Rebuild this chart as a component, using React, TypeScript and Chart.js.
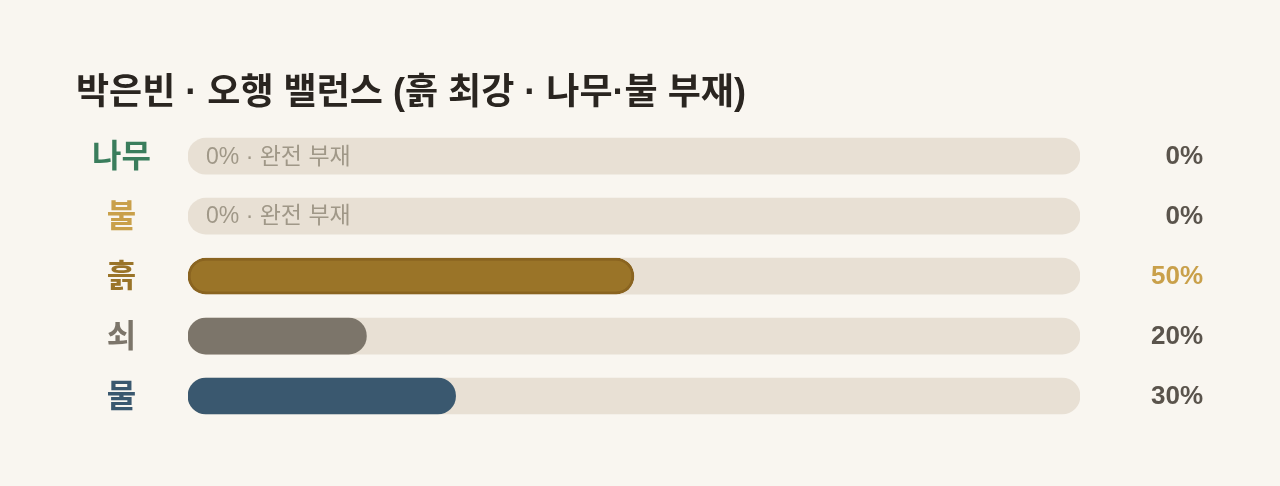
import React, { useEffect, useRef } from 'react';
import Chart from 'chart.js/auto';

const elements = ['나무', '불', '흙', '쇠', '물'];
const shares = [0, 0, 50, 20, 30];
const trackValues = [100, 100, 100, 100, 100];
const absentNote = '0% · 완전 부재';
const titleText = '박은빈 · 오행 밸런스 (흙 최강 · 나무·불 부재)';

const labelColors = ['#3a7d5c', '#c9a04a', '#9a7428', '#7c756a', '#3a586f'];
const barColors = ['#3a7d5c', '#c9a04a', '#9a7428', '#7c756a', '#3a586f'];
const barBorders = [0, 0, 3, 0, 0];
const strongest = 2;

// latin glyphs from Liberation Sans, hangul falls back to Noto CJK
const FONT = '"Liberation Sans", "Noto Sans CJK KR", sans-serif';

const valueTextPlugin = {
  id: 'valueText',
  afterDatasetsDraw(chart: any) {
    const { ctx, chartArea, scales } = chart;
    ctx.save();
    ctx.textBaseline = 'middle';
    elements.forEach((_, i) => {
      const y = scales.y.getPixelForValue(i);
      ctx.font = `bold 26px ${FONT}`;
      ctx.textAlign = 'right';
      ctx.fillStyle = i === strongest ? '#c9a04a' : '#5a544c';
      ctx.fillText(`${shares[i]}%`, chartArea.right + 123, y + 1);
      if (shares[i] === 0) {
        ctx.font = `23px ${FONT}`;
        ctx.textAlign = 'left';
        ctx.fillStyle = '#a09888';
        ctx.fillText(absentNote, scales.x.getPixelForValue(0) + 18, y + 1);
      }
    });
    ctx.restore();
  },
};

const App: React.FC = () => {
  const chartRef = useRef<HTMLCanvasElement | null>(null);
  const chartInstance = useRef<Chart | null>(null);

  useEffect(() => {
    document.body.style.margin = '0';
    document.body.style.background = '#f9f6f0';
    if (!chartRef.current) return;
    if (chartInstance.current) chartInstance.current.destroy();
    const ctx = chartRef.current.getContext('2d');
    if (!ctx) return;

    chartInstance.current = new Chart(ctx, {
      type: 'bar',
      data: {
        labels: elements,
        datasets: [
          {
            label: 'share',
            data: shares.map((v) => (v === 0 ? null : v)),
            backgroundColor: barColors,
            borderColor: '#8a6420',
            borderWidth: barBorders,
            borderRadius: 18,
            borderSkipped: false,
            barThickness: 36,
            grouped: false,
            order: 0,
          },
          {
            label: 'track',
            data: trackValues,
            backgroundColor: '#e8e0d4',
            borderWidth: 0,
            borderRadius: 18,
            borderSkipped: false,
            barThickness: 36,
            grouped: false,
            order: 1,
          },
        ],
      },
      options: {
        indexAxis: 'y',
        responsive: false,
        animation: false,
        layout: { padding: { left: 76, right: 200, top: 0, bottom: 60 } },
        plugins: {
          legend: { display: false },
          tooltip: { enabled: false },
          title: {
            display: true,
            text: titleText,
            align: 'start',
            color: '#2a2520',
            font: { family: FONT, size: 36, weight: 'bold' },
            padding: { top: 72, bottom: 11 },
          },
        },
        scales: {
          x: { display: false, min: 0, max: 100 },
          y: {
            grid: { display: false, drawTicks: false },
            border: { display: false },
            ticks: {
              crossAlign: 'center',
              padding: 37,
              labelOffset: 2,
              color: (c: any) => labelColors[c.index],
              font: { family: FONT, size: 32, weight: 'bold' },
            },
            afterFit: (axis: any) => {
              axis.width = 112;
            },
          },
        },
      },
      plugins: [valueTextPlugin],
    } as any);

    return () => {
      if (chartInstance.current) {
        chartInstance.current.destroy();
        chartInstance.current = null;
      }
    };
  }, []);

  return (
    <div style={{ width: 1280, height: 486, background: '#f9f6f0' }}>
      <canvas ref={chartRef} width={1280} height={486} />
    </div>
  );
};

export default App;
